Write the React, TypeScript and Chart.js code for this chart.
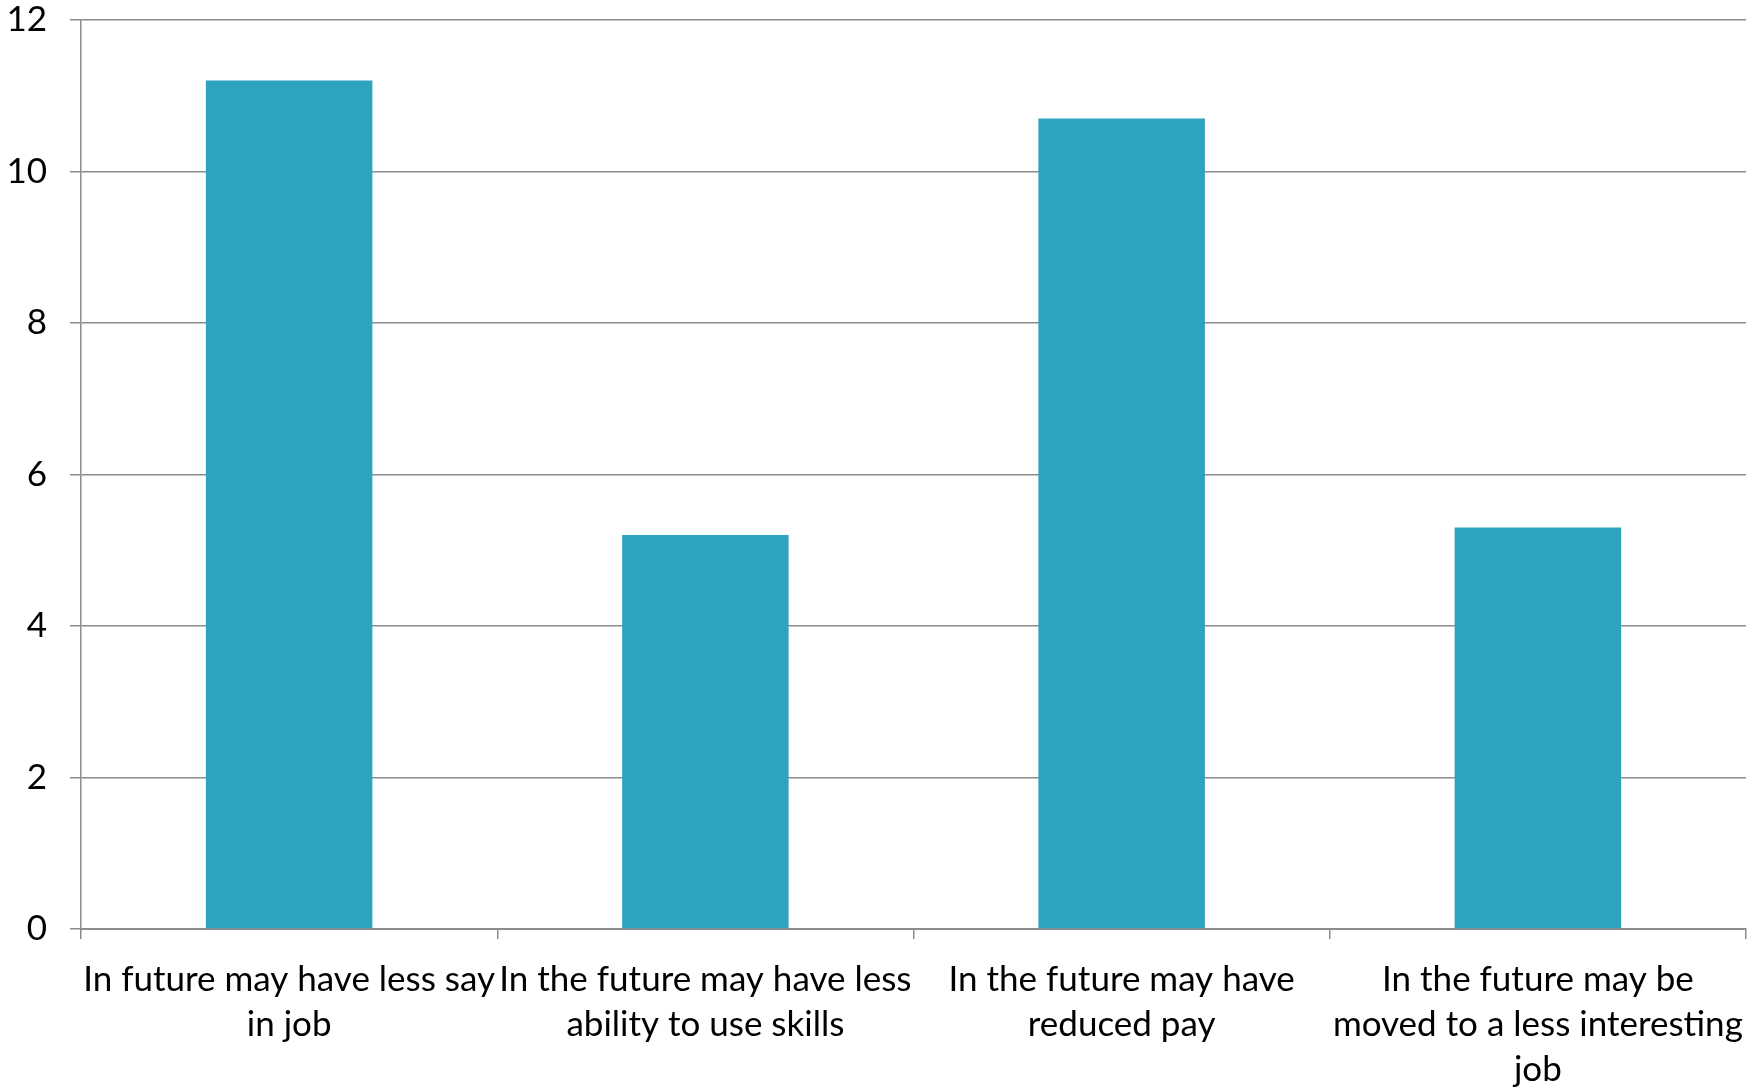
import React, { useEffect, useRef } from "react";
import { Chart, registerables } from "chart.js";

Chart.register(...registerables);

const categories: string[][] = [
  ["In future may have less say", "in job"],
  ["In the future may have less", "ability to use skills"],
  ["In the future may have", "reduced pay"],
  ["In the future may be", "moved to a less interesting", "job"],
];
const values: number[] = [11.2, 5.2, 10.7, 5.3];
const yTicks: number[] = [0, 2, 4, 6, 8, 10, 12];

const BAR_COLOR = "#2EA3BF";
const GRID_COLOR = "#8C8C8C";
const FONT_FAMILY = "Lato, 'Open Sans', sans-serif";
const FONT_SIZE = 35;

export default function App() {
  const canvasRef = useRef<HTMLCanvasElement | null>(null);

  useEffect(() => {
    if (!canvasRef.current) return;
    const chart = new Chart(canvasRef.current, {
      type: "bar",
      data: {
        labels: categories,
        datasets: [
          {
            data: values,
            backgroundColor: BAR_COLOR,
            borderWidth: 0,
            barPercentage: 0.4,
            categoryPercentage: 1,
          },
        ],
      },
      options: {
        animation: false,
        responsive: false,
        maintainAspectRatio: false,
        layout: { padding: { top: 20, right: 15, left: 0, bottom: 0 } },
        plugins: {
          legend: { display: false },
          tooltip: { enabled: false },
        },
        scales: {
          x: {
            offset: true,
            grid: {
              display: true,
              drawOnChartArea: false,
              drawTicks: true,
              tickLength: 10,
              color: GRID_COLOR,
              lineWidth: 1.5,
              offset: true,
            },
            border: { display: true, color: GRID_COLOR, width: 2 },
            ticks: {
              color: "#000",
              maxRotation: 0,
              minRotation: 0,
              autoSkip: false,
              padding: 18,
              font: { family: FONT_FAMILY, size: FONT_SIZE, lineHeight: 45 / FONT_SIZE },
            },
            afterFit: (axis: any) => {
              axis.height = 158;
              axis.paddingLeft = 0;
              axis.paddingRight = 0;
            },
          },
          y: {
            min: 0,
            max: 12,
            afterBuildTicks: (axis: any) => {
              axis.ticks = yTicks.map((v) => ({ value: v }));
            },
            grid: {
              color: GRID_COLOR,
              lineWidth: 1.5,
              tickLength: 11,
            },
            border: { display: true, color: GRID_COLOR, width: 1.5 },
            ticks: {
              color: "#000",
              padding: 23,
              font: { family: FONT_FAMILY, size: FONT_SIZE },
            },
            afterFit: (axis: any) => {
              axis.width = 81;
              axis.paddingTop = 0;
              axis.paddingBottom = 0;
            },
          },
        },
      },
    });
    return () => chart.destroy();
  }, []);

  return (
    <div style={{ position: "fixed", left: 0, top: 0, width: 1761, height: 1087, background: "#fff" }}>
      <canvas ref={canvasRef} width={1761} height={1087} style={{ width: 1761, height: 1087 }} />
    </div>
  );
}
